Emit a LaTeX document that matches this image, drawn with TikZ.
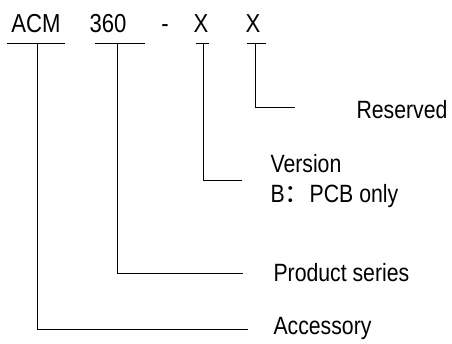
\documentclass[tikz,border=0pt]{standalone}
\usepackage{fontspec}
\setmainfont[FakeStretch=0.85]{Liberation Sans}
\newfontfamily\cjk{Noto Sans CJK SC}
\begin{document}
\begin{tikzpicture}[x=1pt,y=-1pt,line width=1pt,
	code/.style={inner sep=0pt,anchor=base,font=\fontsize{26}{28}\selectfont},
	lbl/.style={inner sep=0pt,anchor=west,align=left,font=\fontsize{25}{30}\selectfont}]
	\useasboundingbox (0,0) rectangle (452,344);
	% model code
	\node[code] (acm) at (36,33) {ACM};
	\node[code] (ser) at (108,33) {360};
	\node[code] (dash) at (165,33) {-};
	\node[code] (ver) at (201,33) {X};
	\node[code] (res) at (253,33) {X};
	% underlines
	\draw (7,44) -- (65,44);
	\draw (95,44) -- (145,44);
	\draw (196,44) -- (209,44);
	\draw (247,44) -- (266,44);
	\coordinate (a0) at (37,44);
	\coordinate (s0) at (117,44);
	\coordinate (v0) at (203,44);
	\coordinate (r0) at (255,44);
	% meanings
	\node[lbl] (reserved) at (356,110) {Reserved};
	\node[lbl] (version) at (270,181) {Version\\B{\cjk ：}PCB only};
	\node[lbl] (product) at (273,273) {Product series};
	\node[lbl] (accessory) at (273,328) {Accessory};
	\draw (r0) |- ([xshift=-61pt,yshift=2pt]reserved.west);
	\draw (v0) |- ([xshift=-28pt]version.west);
	\draw (s0) |- ([xshift=-30pt,yshift=-1pt]product.west);
	\draw (a0) |- ([xshift=-25pt,yshift=-1pt]accessory.west);
\end{tikzpicture}
\end{document}
